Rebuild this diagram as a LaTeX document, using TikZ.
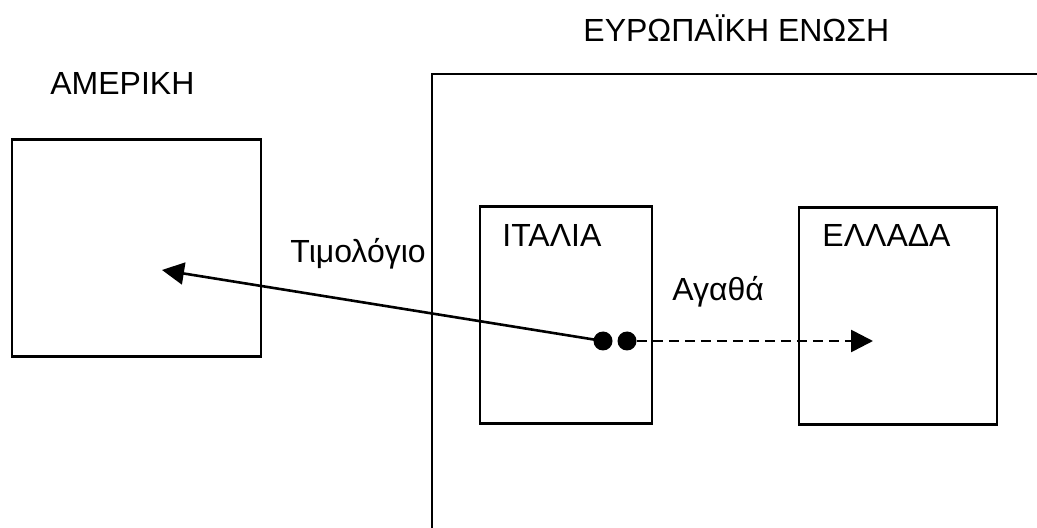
\documentclass[tikz,border=0pt]{standalone}
\usepackage{fontspec}
\setmainfont{Liberation Sans}
\usetikzlibrary{arrows.meta}
\begin{document}
\begin{tikzpicture}[x=0.5pt,y=-0.5pt,
  box/.style={draw,line width=1.4pt,minimum height=108.5pt,inner sep=0pt},
  lbl/.style={inner sep=0pt,anchor=base west,font=\fontsize{16pt}{19pt}\selectfont},
  dot/.style={circle,fill,inner sep=0pt,minimum size=9.5pt},
  conn/.style={line width=1.3pt,-{Triangle[length=11pt,width=11pt]}}]
\useasboundingbox (0,0) rectangle (1037,528);
% European Union frame (extends beyond the picture)
\draw[line width=1.4pt] (432,528) |- (1037,74);
% boxes
\node[box,minimum width=124.5pt] (amer) at (136.5,248) {};
\node[box,minimum width=86pt] (ital) at (566,315) {};
\node[box,minimum width=99pt] (ell) at (898,316) {};
% labels
\node[lbl] (tamer) at (50,95) {ΑΜΕΡΙΚΗ};
\node[lbl] (teu) at (583,42) {ΕΥΡΩΠΑΪΚΗ ΕΝΩΣΗ};
\node[lbl] (tital) at (502,247) {ΙΤΑΛΙΑ};
\node[lbl] (tell) at (822,247) {ΕΛΛΑΔΑ};
\node[lbl] (tinv) at (290,263) {Τιμολόγιο};
\node[lbl] (tgoods) at (672,301) {Αγαθά};
% dots and connectors
\node[dot] (d1) at (603,341) {};
\node[dot] (d2) at (627,341) {};
\coordinate (ainv) at (162,270);
\coordinate (agoods) at (873,341);
\draw[conn] (d1.center) -- (ainv);
\draw[conn,dash pattern=on 5pt off 3pt] (d2) -- (agoods);
\end{tikzpicture}
\end{document}
